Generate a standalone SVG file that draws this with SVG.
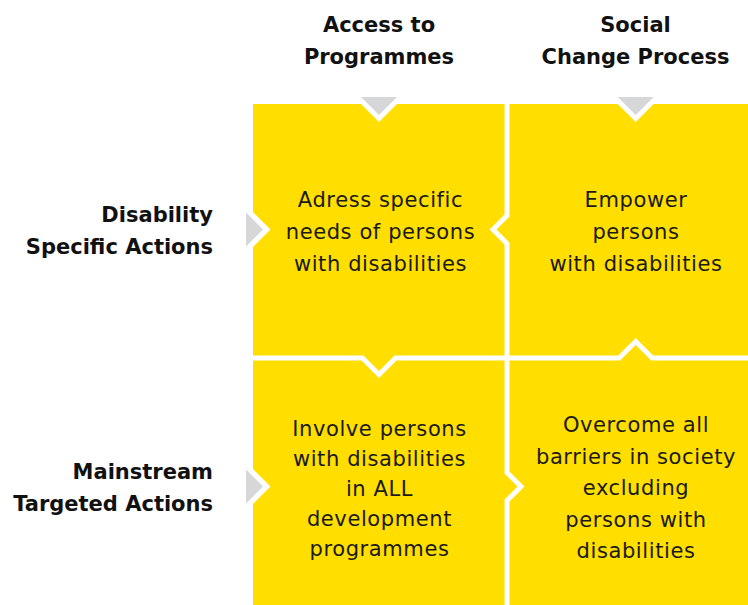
<svg xmlns="http://www.w3.org/2000/svg" width="748" height="605" viewBox="0 0 748 605">
<style>
.cell{fill:#FFDE00}
.arrow{fill:#D6D7D9}
.hd{font-family:"DejaVu Sans",sans-serif;font-weight:bold;font-size:21px;fill:#111}
.bd{font-family:"DejaVu Sans",sans-serif;font-size:21px;letter-spacing:0.6px;fill:#1a1a1a;text-anchor:middle}
</style>
<rect width="748" height="605" fill="#fff"/>
<g id="headers" class="hd">
<text x="379" y="32" text-anchor="middle">Access to</text>
<text x="379" y="64" text-anchor="middle">Programmes</text>
<text x="635.5" y="32" text-anchor="middle">Social</text>
<text x="635.5" y="64" text-anchor="middle">Change Process</text>
<text x="213" y="222" text-anchor="end">Disability</text>
<text x="213" y="254" text-anchor="end">Specific Actions</text>
<text x="213" y="479" text-anchor="end">Mainstream</text>
<text x="213" y="511" text-anchor="end">Targeted Actions</text>
</g>
<g id="node-tl">
<polygon class="cell" points="253,104 361,104 379,122 397,104 504.5,104 504.5,214.5 489.5,229.5 504.5,244.5 504.5,355.5 394.5,355.5 379,371 363.5,355.5 253,355.5 253,247 270.5,229.5 253,212"/>
<text class="bd"><tspan x="380.5" y="207">Adress specific</tspan><tspan x="380.5" y="239">needs of persons</tspan><tspan x="380.5" y="271">with disabilities</tspan></text>
</g>
<g id="node-tr">
<polygon class="cell" points="509.5,104 617.7,104 635.7,122 653.7,104 748,104 748,355.5 653.2,355.5 635.7,338 618.2,355.5 509.5,355.5 509.5,242.5 496.5,229.5 509.5,216.5"/>
<text class="bd"><tspan x="636" y="207">Empower</tspan><tspan x="636" y="239">persons</tspan><tspan x="636" y="271">with disabilities</tspan></text>
</g>
<g id="node-bl">
<polygon class="cell" points="253,360.5 361.5,360.5 379,378 396.5,360.5 504.5,360.5 504.5,473.5 517.5,486.5 504.5,499.5 504.5,605 253,605 253,504 270.5,486.5 253,469"/>
<text class="bd"><tspan x="379.5" y="436">Involve persons</tspan><tspan x="379.5" y="466">with disabilities</tspan><tspan x="379.5" y="496">in ALL</tspan><tspan x="379.5" y="526">development</tspan><tspan x="379.5" y="556">programmes</tspan></text>
</g>
<g id="node-br">
<polygon class="cell" points="509.5,360.5 620.2,360.5 635.7,345 651.2,360.5 748,360.5 748,605 509.5,605 509.5,501.5 524.5,486.5 509.5,471.5"/>
<text class="bd"><tspan x="636" y="432">Overcome all</tspan><tspan x="636" y="463.5">barriers in society</tspan><tspan x="636" y="495">excluding</tspan><tspan x="636" y="526.5">persons with</tspan><tspan x="636" y="558">disabilities</tspan></text>
</g>
<g id="connectors">
<polygon class="arrow" points="361,97 397,97 379,115"/>
<polygon class="arrow" points="617.7,97 653.7,97 635.7,115"/>
<polygon class="arrow" points="246,212.5 246,246.5 263,229.5"/>
<polygon class="arrow" points="246,469.5 246,503.5 263,486.5"/>
</g>
</svg>
